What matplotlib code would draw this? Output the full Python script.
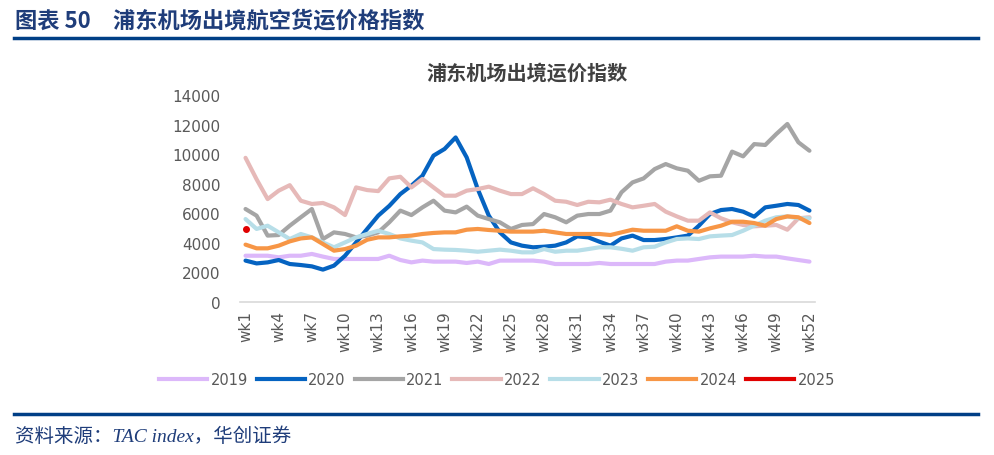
import numpy as np
import matplotlib
matplotlib.use('Agg')
import matplotlib.pyplot as plt
from matplotlib.lines import Line2D

plt.rcParams['font.family'] = ['DejaVu Sans', 'Noto Sans CJK SC']

weeks = np.arange(1, 53)
tick_weeks = list(range(1, 53, 3))
tick_labels = ['wk%d' % w for w in tick_weeks]

y2019 = [3130, 3130, 3130, 3020, 3130, 3130, 3250, 3070, 2910, 2910,
         2910, 2910, 2910, 3130, 2840, 2680, 2800, 2730, 2730, 2730,
         2640, 2730, 2570, 2800, 2800, 2800, 2800, 2730, 2570, 2570,
         2570, 2570, 2640, 2570, 2570, 2570, 2570, 2570, 2730, 2800,
         2800, 2910, 3020, 3070, 3070, 3070, 3130, 3070, 3070, 2950,
         2840, 2730]
y2020 = [2800, 2610, 2680, 2840, 2570, 2500, 2410, 2190, 2460, 3130,
         4030, 4940, 5840, 6500, 7300, 7870, 8540, 9900, 10350, 11130,
         9780, 7640, 5840, 4710, 4030, 3810, 3700, 3740, 3810, 4030,
         4440, 4370, 4080, 3810, 4300, 4490, 4190, 4190, 4260, 4370,
         4490, 5160, 5950, 6220, 6290, 6110, 5770, 6400, 6510, 6630,
         6560, 6180]
y2021 = [6290, 5840, 4490, 4530, 5160, 5730, 6290, 4260, 4710, 4600,
         4370, 4490, 4710, 5390, 6180, 5880, 6400, 6850, 6180, 6060,
         6450, 5840, 5610, 5390, 4940, 5210, 5270, 5950, 5730, 5390,
         5840, 5950, 5950, 6180, 7420, 8090, 8360, 8990, 9330, 9040,
         8880, 8200, 8500, 8540, 10170, 9850, 10680, 10620, 11360, 12040,
         10800, 10230]
y2022 = [9750, 8300, 6960, 7530, 7900, 6850, 6630, 6700, 6400, 5880,
         7750, 7570, 7500, 8360, 8470, 7750, 8320, 7750, 7190, 7190,
         7530, 7640, 7800, 7530, 7300, 7300, 7690, 7300, 6850, 6780,
         6560, 6780, 6740, 6920, 6630, 6400, 6510, 6630, 6110, 5790,
         5500, 5500, 6060, 5660, 5390, 5210, 5120, 5160, 5210, 4890,
         5660, 5730]
y2023 = [5610, 4940, 5160, 4710, 4260, 4600, 4370, 4030, 3700, 4030,
         4370, 4600, 4820, 4600, 4300, 4150, 4030, 3580, 3540, 3520,
         3470, 3400, 3470, 3540, 3470, 3360, 3360, 3580, 3400, 3470,
         3470, 3580, 3700, 3700, 3600, 3470, 3700, 3740, 4030, 4260,
         4300, 4260, 4440, 4490, 4530, 4820, 5160, 5500, 5730, 5790,
         5660, 5660]
y2024 = [3880, 3630, 3630, 3810, 4100, 4300, 4370, 3920, 3470, 3580,
         3810, 4210, 4370, 4370, 4440, 4490, 4600, 4670, 4710, 4710,
         4890, 4940, 4870, 4820, 4760, 4760, 4760, 4820, 4710, 4600,
         4600, 4600, 4600, 4530, 4710, 4890, 4820, 4820, 4820, 5120,
         4820, 4760, 4980, 5160, 5430, 5430, 5340, 5160, 5610, 5790,
         5730, 5340]
y2025 = [4940]

series = [('2019', y2019, '#DCB8FA'),
          ('2020', y2020, '#0563C1'),
          ('2021', y2021, '#A5A5A5'),
          ('2022', y2022, '#E6B9B8'),
          ('2023', y2023, '#B7DEE8'),
          ('2024', y2024, '#F79646')]

navy = '#1F3D7A'

fig = plt.figure(figsize=(9.94, 4.56), dpi=100)
ax = fig.add_axes([240 / 994, 1 - 303 / 456, 575 / 994, 207 / 456])

for name, vals, col in series:
    ax.plot(weeks, vals, color=col, lw=3, solid_capstyle='round', label=name)
ax.plot(weeks[:1], y2025, color='#E00000', lw=3, marker='o', ms=4, label='2025')

ax.set_xlim(0.5, 52.5)
ax.set_ylim(0, 14000)
ax.set_yticks(range(0, 14001, 2000))
ax.set_xticks(tick_weeks)
ax.set_xticklabels(tick_labels, rotation=90)
ax.tick_params(axis='both', length=0, labelsize=11, colors='#595959')
ax.tick_params(axis='y', pad=14)
ax.tick_params(axis='x', pad=6)
for s in ['top', 'right', 'left']:
    ax.spines[s].set_visible(False)
ax.spines['bottom'].set_color('#D9D9D9')
ax.spines['bottom'].set_linewidth(1.2)

ax.set_title('浦东机场出境运价指数', fontsize=14.5, fontweight='bold',
             color='#404040', pad=12, family=['Noto Sans CJK SC'])

handles = [Line2D([], [], color=c, lw=3) for _, _, c in series]
handles.append(Line2D([], [], color='#E00000', lw=3))
labels = [n for n, _, _ in series] + ['2025']
fig.legend(handles, labels, loc='center', bbox_to_anchor=(497 / 994, 1 - 381 / 456),
           ncol=7, frameon=False, fontsize=10.5, handlelength=3.3, handletextpad=0.25,
           columnspacing=0.6, labelcolor='#595959')

fig.text(15 / 994, 1 - 21 / 456, '图表 50　浦东机场出境航空货运价格指数', fontsize=16,
         fontweight='bold', color=navy, va='center', ha='left',
         family=['Noto Sans CJK SC', 'DejaVu Sans'])
fig.add_artist(Line2D([14 / 994, 978 / 994], [1 - 39 / 456, 1 - 39 / 456],
                      color='#003F86', lw=2.5))
fig.add_artist(Line2D([14 / 994, 978 / 994], [1 - 415 / 456, 1 - 415 / 456],
                      color='#003F86', lw=2.5))
fig.text(15 / 994, 1 - 437 / 456, '资料来源：TAC index，华创证券', fontsize=14,
         style='italic', color=navy, va='center', ha='left',
         family=['Liberation Serif', 'Noto Sans CJK SC'])

fig.savefig('out.png', dpi=100)
